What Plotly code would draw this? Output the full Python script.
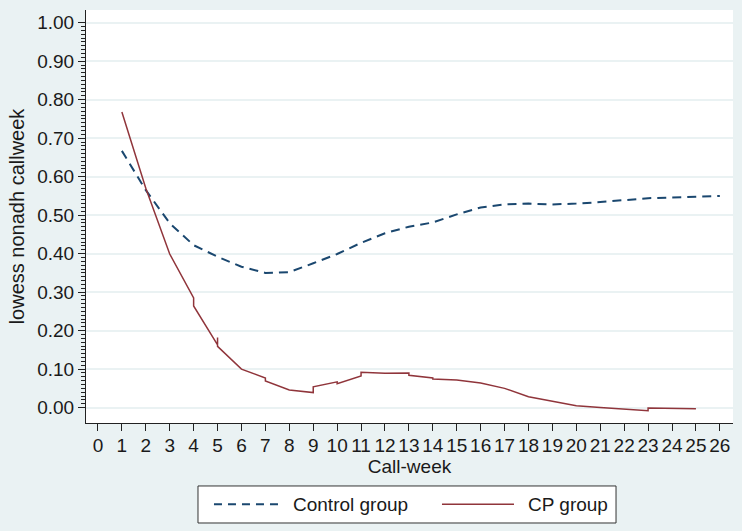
import plotly.graph_objects as go

# Data
control_weeks = list(range(1, 27))
control_values = [0.667, 0.565, 0.479, 0.422, 0.392, 0.366, 0.350, 0.352, 0.375, 0.399,
                  0.428, 0.453, 0.470, 0.481, 0.502, 0.520, 0.528, 0.530, 0.528, 0.530,
                  0.534, 0.539, 0.544, 0.546, 0.548, 0.550]

cp_weeks = [1, 2, 3, 4, 4, 5, 5, 5, 6, 7, 7, 8, 9, 9, 10, 10, 11, 11, 12, 13, 13,
            14, 14, 15, 16, 17, 18, 19, 20, 21, 22, 23, 23, 24, 25]
cp_values = [0.768, 0.570, 0.399, 0.285, 0.264, 0.163, 0.182, 0.159, 0.100, 0.077, 0.069,
             0.046, 0.039, 0.054, 0.067, 0.062, 0.082, 0.092, 0.089, 0.090, 0.084,
             0.077, 0.074, 0.072, 0.064, 0.050, 0.028, 0.016, 0.005, 0.000, -0.004,
             -0.008, -0.001, -0.002, -0.003]

x_ticks = list(range(0, 27))
y_ticks = [0.0, 0.1, 0.2, 0.3, 0.4, 0.5, 0.6, 0.7, 0.8, 0.9, 1.0]
y_minor = [i / 100 for i in range(0, 101) if i % 10 != 0]

series_names = ["Control group", "CP group"]

navy = "#1a476f"
maroon = "#90353b"
bg = "#eaf2f3"
ink = "#1a1a1a"
font_family = "Liberation Sans, Arial, sans-serif"

fig = go.Figure()
fig.add_trace(go.Scatter(x=control_weeks, y=control_values, mode="lines",
                         name=series_names[0], showlegend=False,
                         line=dict(color=navy, width=2, dash="9px,6px")))
fig.add_trace(go.Scatter(x=cp_weeks, y=cp_values, mode="lines",
                         name=series_names[1], showlegend=False,
                         line=dict(color=maroon, width=1.5)))

# Legend box drawn in paper coordinates below the plot
legend_y = -0.197
fig.add_shape(type="rect", xref="paper", yref="paper",
              x0=0.1731, x1=0.8192, y0=-0.2421, y1=-0.1525,
              fillcolor="white", line=dict(color="#333333", width=1), layer="above")
fig.add_shape(type="line", xref="paper", yref="paper",
              x0=0.1978, x1=0.2998, y0=legend_y, y1=legend_y,
              line=dict(color=navy, width=2, dash="8px,6px"), layer="above")
fig.add_shape(type="line", xref="paper", yref="paper",
              x0=0.5502, x1=0.6615, y0=legend_y, y1=legend_y,
              line=dict(color=maroon, width=1.5), layer="above")
fig.add_annotation(text=series_names[0], xref="paper", yref="paper",
                   x=0.3169, y=legend_y, xanchor="left", yanchor="middle",
                   showarrow=False, font=dict(size=19, color=ink))
fig.add_annotation(text=series_names[1], xref="paper", yref="paper",
                   x=0.6801, y=legend_y, xanchor="left", yanchor="middle",
                   showarrow=False, font=dict(size=19, color=ink))

fig.update_layout(
    width=742, height=531,
    margin=dict(l=86, r=9, t=10, b=108, autoexpand=False),
    paper_bgcolor=bg, plot_bgcolor="white",
    font=dict(family=font_family, size=19, color=ink),
    showlegend=False,
)

fig.update_xaxes(
    range=[-0.5, 26.55], tickmode="array", tickvals=x_ticks,
    ticktext=[str(v) for v in x_ticks],
    showgrid=False, zeroline=False,
    showline=True, linecolor="#222222", linewidth=1,
    ticks="outside", ticklen=7, tickcolor="#222222",
    tickfont=dict(size=19), ticklabelstandoff=-2,
    title=dict(text="Call-week", font=dict(size=19), standoff=2),
)
fig.update_yaxes(
    range=[-0.04, 1.033], tickmode="array", tickvals=y_ticks,
    ticktext=[f"{v:.2f}" for v in y_ticks],
    showgrid=True, gridcolor=bg, gridwidth=1.5, zeroline=False,
    showline=True, linecolor="#222222", linewidth=1,
    ticks="outside", ticklen=7, tickcolor="#222222",
    tickfont=dict(size=19),
    minor=dict(tickmode="array", tickvals=y_minor, ticks="outside", ticklen=4,
               tickcolor="#222222", showgrid=False),
    title=dict(text="lowess nonadh callweek", font=dict(size=20), standoff=7),
)

fig.write_html(
    "out.html",
    config={"displayModeBar": False},
    post_script="document.body.style.margin='0';document.body.style.padding='0';"
                "document.body.style.background='%s';" % bg,
)
